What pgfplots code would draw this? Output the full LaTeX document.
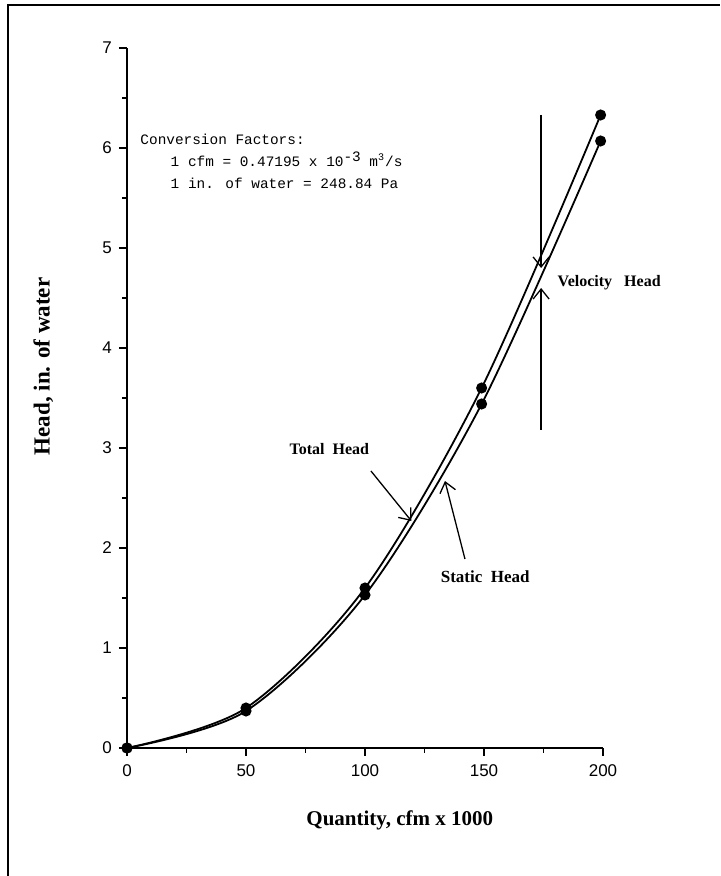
\documentclass[border=0pt]{standalone}
\usepackage{fontspec}
\setmainfont{Liberation Serif}
\newfontfamily\ticksans{Liberation Sans}
\newfontfamily\monof{Liberation Mono}
\usepackage{pgfplots}
\pgfplotsset{compat=1.18}
\usetikzlibrary{arrows.meta}
\begin{document}
\begin{tikzpicture}
\path[use as bounding box] (-63.5pt,-64pt) rectangle (296.5pt,374pt);
\draw[line width=1.1pt] (-59.5pt,-64pt) -- (-59.5pt,371.5pt) -- (296.5pt,371.5pt);
\begin{axis}[
  scale only axis, width=238pt, height=350pt,
  xmin=0, xmax=200, ymin=0, ymax=7,
  axis x line*=bottom, axis y line*=left,
  axis line style={line width=0.9pt, -},
  xtick={0,50,100,150,200}, ytick={0,1,2,3,4,5,6,7},
  minor xtick={25,75,125,175}, minor ytick={0.5,1.5,2.5,3.5,4.5,5.5,6.5},
  tick align=outside, tick style={line width=0.6pt, black},
  major tick length=4pt, minor tick length=2.5pt,
  ticklabel style={font=\ticksans\fontsize{8.5}{10}\selectfont},
  /pgf/number format/assume math mode=true,
  xticklabel style={yshift=-1pt},
  xlabel={Quantity, cfm x 1000},
  ylabel={Head, in. of water},
  xlabel style={font=\bfseries\fontsize{10.5}{12}\selectfont, at={(axis description cs:0.573,-0.104)}, anchor=center},
  ylabel style={font=\bfseries\fontsize{11.5}{14}\selectfont, at={(axis description cs:-0.176,0.545)}, anchor=center, rotate=0},
  clip=false,
]
\addplot[black, line width=0.9pt, smooth, mark=*, mark size=2.3pt] coordinates {(0,0) (50,0.40) (100,1.60) (149,3.60) (199,6.33)};
\addplot[black, line width=0.9pt, smooth, mark=*, mark size=2.3pt] coordinates {(0,0) (50,0.37) (100,1.53) (149,3.44) (199,6.07)};
% velocity head arrows
\draw[-{Straight Barb[length=5pt,width=8pt]}, line width=0.65pt] (axis cs:174,6.33) -- (axis cs:174,4.80);
\draw[-{Straight Barb[length=5pt,width=8pt]}, line width=0.65pt] (axis cs:174,3.18) -- (axis cs:174,4.60);
\node[anchor=west, font=\bfseries\fontsize{8}{9}\selectfont] at (axis cs:178,4.65) {Velocity\ \ \ Head};
% total head
\draw[-{Straight Barb[length=5pt,width=8pt]}, line width=0.65pt] (axis cs:102.5,2.77) -- (axis cs:119.5,2.27);
\node[font=\bfseries\fontsize{8}{9}\selectfont] at (axis cs:85,2.99) {Total\ \ Head};
% static head
\draw[-{Straight Barb[length=5pt,width=8pt]}, line width=0.65pt] (axis cs:142,1.89) -- (axis cs:133.6,2.67);
\node[font=\bfseries\fontsize{8.5}{9}\selectfont] at (axis cs:150.5,1.71) {Static\ \ Head};
% conversion factors
\node[anchor=north west, align=left, font=\monof\fontsize{7.2}{11}\selectfont, inner sep=0pt] at (axis cs:5.5,6.14) {Conversion Factors:\\
\hspace*{2.1em}1 cfm = 0.47195 x 10\raisebox{0.7ex}{-3} m\textsuperscript{3}/s\\
\hspace*{2.1em}1 in. of water = 248.84 Pa};
\end{axis}
\end{tikzpicture}
\end{document}
